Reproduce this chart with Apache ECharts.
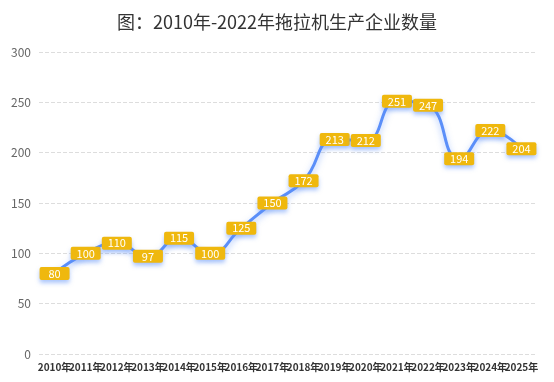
<!DOCTYPE html>
<html><head><meta charset="utf-8">
<script src="https://cdn.jsdelivr.net/npm/echarts@6/dist/echarts.min.js"></script>
<style>html,body{margin:0;padding:0;background:#fff}#c{width:554px;height:382px}</style>
</head><body><div id="c"></div>
<script>
const title = '图：2010年-2022年拖拉机生产企业数量';
const categories = ['2010年','2011年','2012年','2013年','2014年','2015年','2016年','2017年','2018年','2019年','2020年','2021年','2022年','2023年','2024年','2025年'];
const values = [80,100,110,97,115,100,125,150,172,213,212,251,247,194,222,204];
const yTicks = {min:0, max:300, interval:50};
const chart = echarts.init(document.getElementById('c'));
chart.setOption({
  animation:false,
  textStyle:{fontFamily:'"Noto Sans CJK SC", sans-serif'},
  title:{text:title,left:'center',top:8,textStyle:{fontSize:18,fontWeight:'normal',color:'#333'}},
  grid:{left:39,right:17,top:52,bottom:28},
  xAxis:{type:'category',data:categories,boundaryGap:true,
    axisLine:{show:false},axisTick:{show:false},
    axisLabel:{interval:0,fontSize:10,fontWeight:'bold',color:'#333',margin:8}},
  yAxis:{type:'value',min:yTicks.min,max:yTicks.max,interval:yTicks.interval,
    axisLine:{show:false},axisTick:{show:false},
    axisLabel:{fontSize:12,color:'#666',margin:8},
    splitLine:{lineStyle:{type:'dashed',color:'#ddd'}}},
  series:[{type:'line',data:values,smooth:true,symbol:'circle',symbolSize:4,
    itemStyle:{color:'#5B8FF9'},
    lineStyle:{width:3,color:'#5B8FF9',shadowColor:'rgba(91,143,249,0.5)',shadowBlur:6,shadowOffsetY:3},
    label:{show:true,position:'inside',color:'#fff',fontSize:11,backgroundColor:'#EFB80E',
      width:26,align:'center',padding:[1,2],borderRadius:2,
      shadowColor:'rgba(91,143,249,0.5)',shadowBlur:4,shadowOffsetY:3}}]
});
</script></body></html>
